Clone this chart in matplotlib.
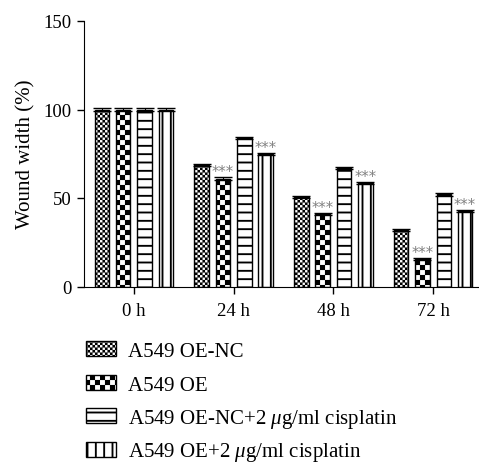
import numpy as np
import matplotlib
matplotlib.use("Agg")
import matplotlib.pyplot as plt
import matplotlib.hatch as mhatch
from matplotlib.path import Path
import warnings
warnings.filterwarnings('ignore')

# data
times = ['0 h', '24 h', '48 h', '72 h']
groups = ['A549 OE-NC', 'A549 OE', 'A549 OE-NC+2 $\\mu$g/ml cisplatin',
          'A549 OE+2 $\\mu$g/ml cisplatin']
oe_nc = [100, 68.5, 50.5, 32]
oe = [100, 61, 41, 15.5]
oe_nc_cis = [100, 84, 67, 52]
oe_cis = [100, 75, 58.5, 42.5]
errs = [0.6, 0.6, 0.6, 0.6]
signif = [[False, False, False, False],
          [False, True, True, True],
          [False, False, False, False],
          [False, True, True, True]]


# checkerboard hatch, 'c' = fine, 'C' = coarse
class Checker(mhatch.HatchPatternBase):
    def __init__(self, hatch, density):
        if 'c' in hatch:
            self.n = 40
        elif 'C' in hatch:
            self.n = 20
        else:
            self.n = 0
        self.num_vertices = (self.n * self.n // 2) * 5 if self.n else 0

    def set_vertices_and_codes(self, vertices, codes):
        s = 1.0 / self.n
        sh = 0.0088  # shrink so the stroke does not bloat the squares
        k = 0
        for r in range(self.n):
            for c in range(self.n):
                if (r + c) % 2:
                    continue
                x0, y0 = c * s + sh, r * s + sh
                x1, y1 = (c + 1) * s - sh, (r + 1) * s - sh
                vertices[k:k + 5] = [[x0, y0], [x1, y0], [x1, y1], [x0, y1], [x0, y0]]
                codes[k:k + 5] = [Path.MOVETO, Path.LINETO, Path.LINETO, Path.LINETO, Path.CLOSEPOLY]
                k += 5


mhatch._hatch_types.append(Checker)

plt.rcParams['font.family'] = 'Liberation Serif'
plt.rcParams['hatch.linewidth'] = 1.35
plt.rcParams['mathtext.fontset'] = 'custom'
plt.rcParams['mathtext.it'] = 'Liberation Serif:italic'
plt.rcParams['mathtext.rm'] = 'Liberation Serif'

fs = 13.5
fig = plt.figure(figsize=(4.79, 4.64), dpi=100)
ax = fig.add_axes([84/479, (464-287.5)/464, (479-84)/479, (287.5-22)/464])

series = [oe_nc, oe, oe_nc_cis, oe_cis]
hatches = ['c', 'C', '--', '||']
offsets = [-0.32, -0.107, 0.107, 0.32]
x = np.arange(len(times))
width = 0.145

bars = []
for i in range(4):
    b = ax.bar(x + offsets[i], series[i], width, facecolor='white', edgecolor='black',
               hatch=hatches[i], linewidth=1.0, label=groups[i], zorder=2)
    bars.append(b)
    ax.errorbar(x + offsets[i], series[i], yerr=errs, fmt='none', ecolor='black',
                elinewidth=0.8, capsize=6.5, capthick=1.0, zorder=3)
    for j in range(4):
        if signif[i][j]:
            ax.text(x[j] + offsets[i], series[i][j] - 0.5, '***', ha='center', va='bottom',
                    fontsize=10.5, color='#808080', family='DejaVu Sans')

ax.set_xlim(-0.5, 3.46)
ax.set_ylim(0, 150)
ax.set_yticks([0, 50, 100, 150])
ax.set_xticks(x)
ax.set_xticklabels(times)
ax.spines['top'].set_visible(False)
ax.spines['right'].set_visible(False)
ax.tick_params(axis='both', labelsize=fs, length=5, width=1.0, direction='out')
ax.tick_params(axis='x', pad=6)
ax.tick_params(axis='y', pad=4)
ax.set_ylabel('Wound width (%)', fontsize=15, labelpad=6)

# one legend per row so the rows stay evenly spaced
row_y = [352, 386, 419.5, 453]
for i in range(4):
    fig.legend(handles=[bars[i]], labels=[groups[i]], loc='center left',
               bbox_to_anchor=(86/479, 1 - row_y[i]/464), frameon=False,
               fontsize=15, handlelength=1.45, handleheight=0.7,
               handletextpad=0.55, borderaxespad=0, borderpad=0)

fig.savefig('out.png', dpi=100)
